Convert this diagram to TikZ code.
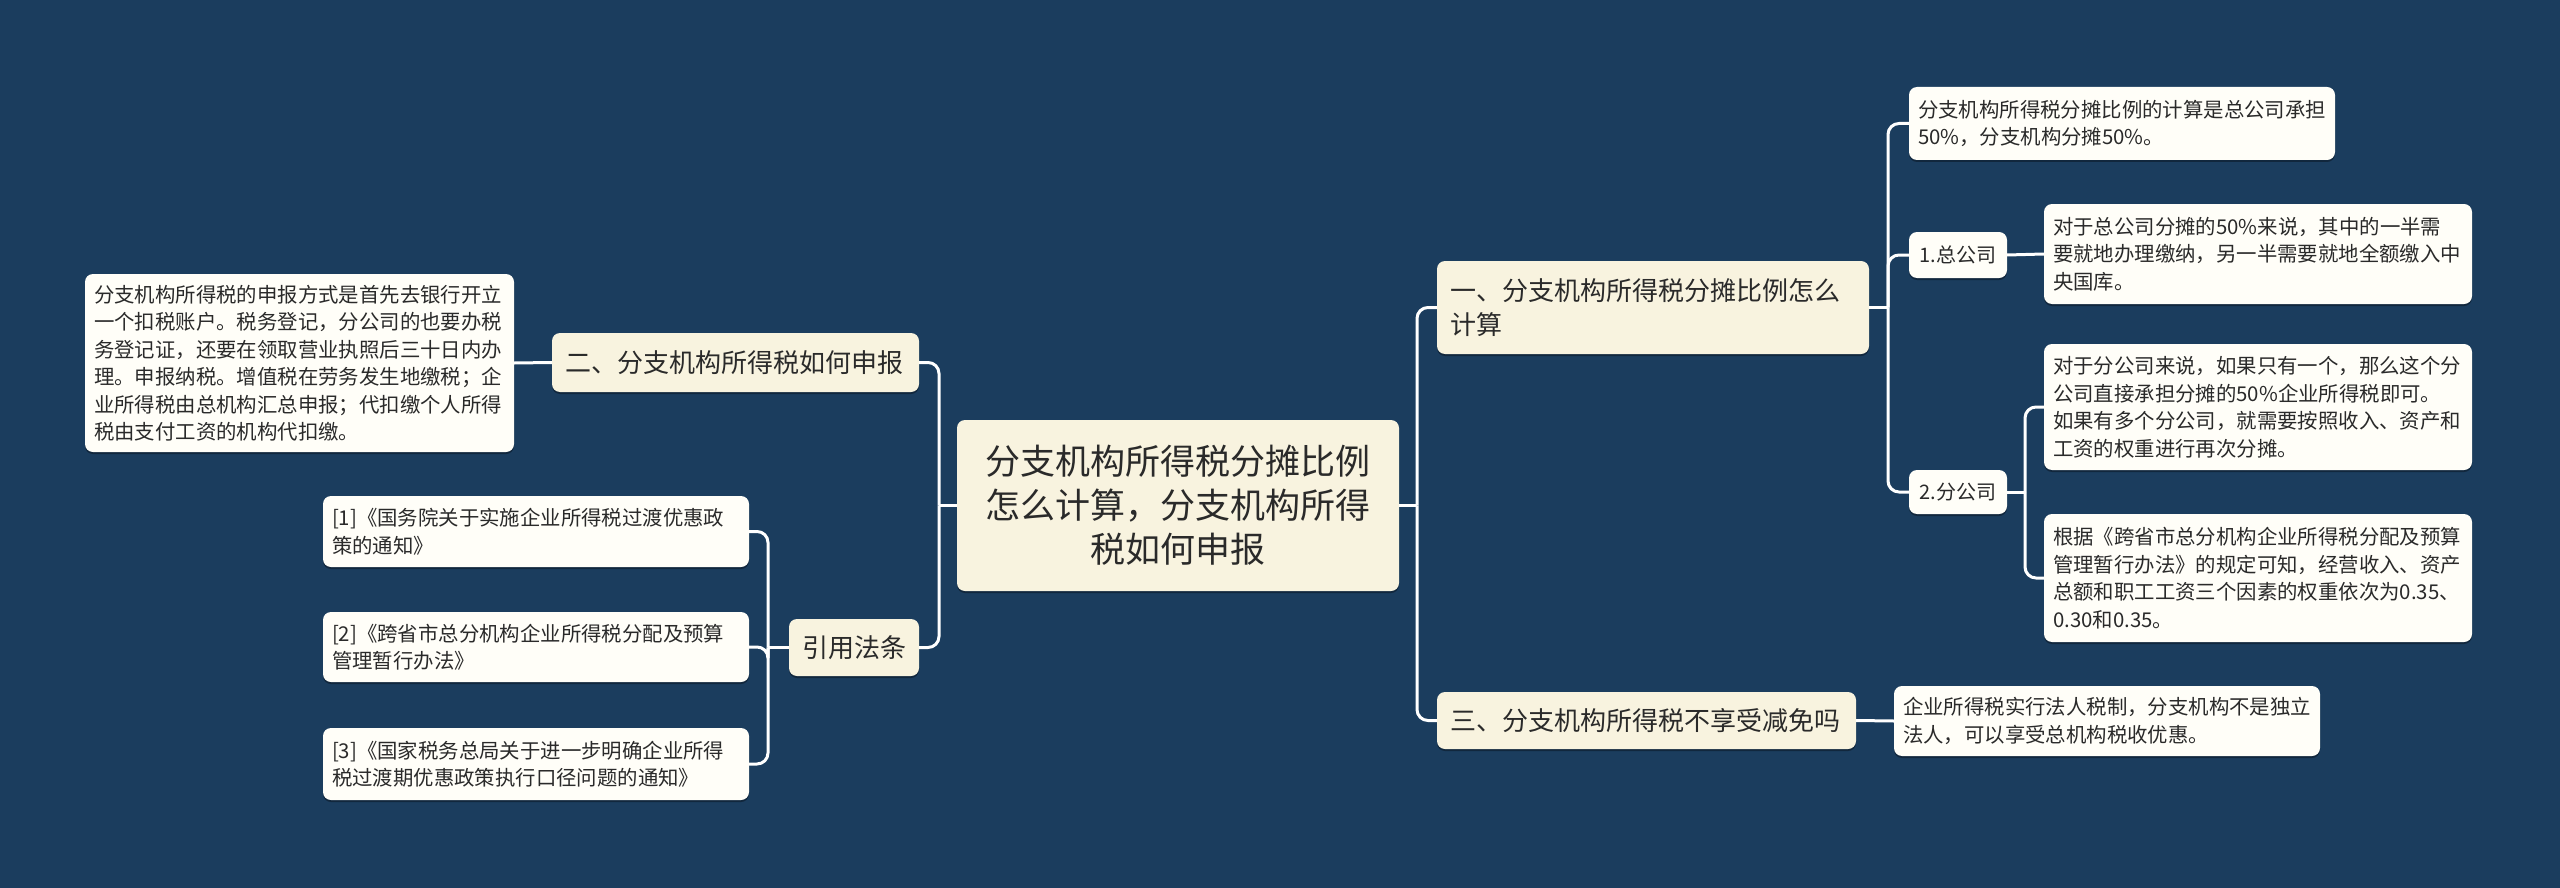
\documentclass[tikz,border=0pt]{standalone}
\usepackage{fontspec}
\setmainfont{Noto Sans CJK SC}
\usetikzlibrary{shadows}
\definecolor{bg}{HTML}{1B3D5E}
\definecolor{cream}{HTML}{F8F3DF}
\definecolor{leafc}{HTML}{FFFEF8}
\definecolor{ink}{HTML}{2A2A2A}
\tikzset{
  conn/.style={draw=white, line width=3pt},
  elbow/.style={draw=white, line width=3pt, rounded corners=11pt},
  boxbase/.style={rounded corners=8pt, text=ink, inner ysep=0pt, anchor=center,
    drop shadow={shadow xshift=0pt, shadow yshift=-2pt, opacity=0.35, fill=black}},
  rootbox/.style={boxbase, fill=cream, align=center, inner xsep=10pt,
    font=\fontsize{35}{44}\selectfont},
  topicbox/.style={boxbase, fill=cream, align=left, inner xsep=13pt,
    font=\fontsize{26}{34}\selectfont},
  leafbox/.style={boxbase, fill=leafc, align=left, inner xsep=9pt, text width=408pt,
    font=\fontsize{20.4}{27.5}\selectfont},
  smallbox/.style={boxbase, fill=leafc, align=center, inner xsep=6pt,
    font=\fontsize{20}{26}\selectfont},
}
\begin{document}
\begin{tikzpicture}[x=1pt,y=-1pt]
\fill[bg] (0,0) rectangle (2560,888);
\useasboundingbox (0,0) rectangle (2560,888);

% root
\node[rootbox, minimum width=442pt, minimum height=171pt, text width=422pt] (root) at (1178,505.5)
  {分支机构所得税分摊比例\\怎么计算，分支机构所得\\税如何申报};

% right topics
\node[topicbox, minimum height=93pt, text width=406pt] (t1) at (1653,307.5)
  {一、分支机构所得税分摊比例怎么\\计算};
\node[topicbox, minimum height=57pt, text width=393pt] (t3) at (1646.5,720.5)
  {三、分支机构所得税不享受减免吗};

% left topics
\node[topicbox, minimum height=59pt, text width=341pt] (t2) at (735.5,362.5)
  {二、分支机构所得税如何申报};
\node[topicbox, minimum height=57pt, text width=104pt] (t4) at (854,647.5)
  {引用法条};

% right leaves
\node[leafbox, minimum height=73pt] (a1) at (2122,123.5)
  {分支机构所得税分摊比例的计算是总公司承担\\50\%，分支机构分摊50\%。};
\node[smallbox, minimum width=98pt, minimum height=46pt, text width=86pt] (hq) at (1958,255)
  {1.总公司};
\node[leafbox, minimum height=100pt, text width=410pt] (a2) at (2258,254)
  {对于总公司分摊的50\%来说，其中的一半需\\要就地办理缴纳，另一半需要就地全额缴入中\\央国库。};
\node[smallbox, minimum width=98pt, minimum height=44pt, text width=86pt] (br) at (1958,492)
  {2.分公司};
\node[leafbox, minimum height=126pt, text width=410pt] (a3) at (2258,407)
  {对于分公司来说，如果只有一个，那么这个分\\公司直接承担分摊的50\%企业所得税即可。\\如果有多个分公司，就需要按照收入、资产和\\工资的权重进行再次分摊。};
\node[leafbox, minimum height=128pt, text width=410pt] (a4) at (2258,578)
  {根据《跨省市总分机构企业所得税分配及预算\\管理暂行办法》的规定可知，经营收入、资产\\总额和职工工资三个因素的权重依次为0.35、\\0.30和0.35。};
\node[leafbox, minimum height=70pt] (a5) at (2107,721)
  {企业所得税实行法人税制，分支机构不是独立\\法人，可以享受总机构税收优惠。};

% left leaves
\node[leafbox, minimum height=178pt, text width=411pt] (b1) at (299.5,363)
  {分支机构所得税的申报方式是首先去银行开立\\一个扣税账户。税务登记，分公司的也要办税\\务登记证，还要在领取营业执照后三十日内办\\理。申报纳税。增值税在劳务发生地缴税；企\\业所得税由总机构汇总申报；代扣缴个人所得\\税由支付工资的机构代扣缴。};
\node[leafbox, minimum height=71pt] (r1) at (536,531.5)
  {[1]《国务院关于实施企业所得税过渡优惠政\\策的通知》};
\node[leafbox, minimum height=70pt] (r2) at (536,647)
  {[2]《跨省市总分机构企业所得税分配及预算\\管理暂行办法》};
\node[leafbox, minimum height=72pt] (r3) at (536,764)
  {[3]《国家税务总局关于进一步明确企业所得\\税过渡期优惠政策执行口径问题的通知》};

% trunk coordinates
\coordinate (tr) at (1417,505.5);
\coordinate (tl) at (939,505.5);
\coordinate (k1) at (1888,307.5);
\coordinate (k2) at (2025,492);
\coordinate (k4) at (768,647.5);

\begin{scope}[on background layer/.style={}]
\end{scope}

% connectors
\draw[conn] (root.east) -- (tr);
\draw[elbow] (tr) |- (t1.west);
\draw[elbow] (tr) |- (t3.west);
\draw[conn] (root.west) -- (tl);
\draw[elbow] (tl) |- (t2.east);
\draw[elbow] (tl) |- (t4.east);

\draw[conn] (t1.east) -- (k1);
\draw[elbow] (k1) |- (a1.west);
\draw[elbow] (k1) |- (hq.west);
\draw[elbow] (k1) |- (br.west);
\draw[conn] (hq.east) -- (a2.west);
\draw[conn] (br.east) -- (k2);
\draw[elbow] (k2) |- (a3.west);
\draw[elbow] (k2) |- (a4.west);
\draw[conn] (t3.east) -- (a5.west);

\draw[conn] (t2.west) -- (b1.east);
\draw[conn] (t4.west) -- (k4);
\draw[elbow] (k4) |- (r1.east);
\draw[elbow] (k4) |- (r2.east);
\draw[elbow] (k4) |- (r3.east);
\end{tikzpicture}
\end{document}
